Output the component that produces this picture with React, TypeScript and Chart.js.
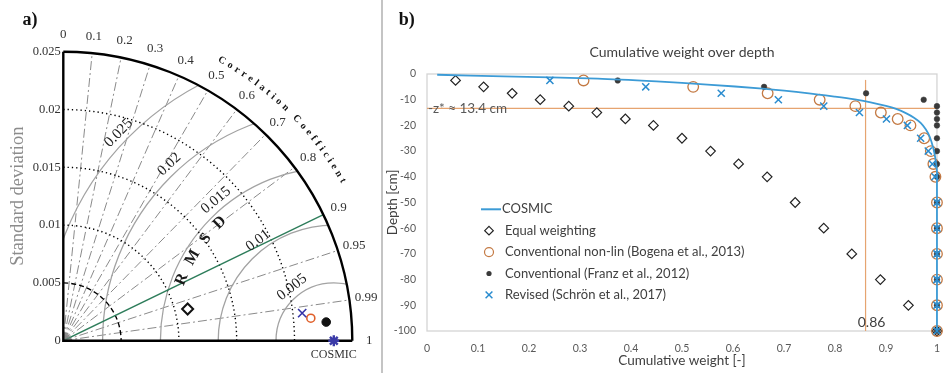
import React, { useEffect, useRef } from 'react';
import { Chart, registerables } from 'chart.js';

Chart.register(...registerables);

// ---------------- Panel a) Taylor diagram data ----------------
const taylorLabels = [
  'Equal weighting',
  'Revised (Schrön et al., 2017)',
  'Conventional non-lin (Bogena et al., 2013)',
  'Conventional (Franz et al., 2012)',
  'COSMIC',
];
const taylorStd = [0.0111, 0.0208, 0.0215, 0.0228, 0.0234];
const taylorCorr = [0.969, 0.9934, 0.9959, 0.9975, 1.0];
const refStd = 0.0234;
const stdMax = 0.025;
const stdArcs = [0.005, 0.01, 0.015, 0.02];
const rmsdArcs = [0.005, 0.01, 0.015, 0.02, 0.025];
const corrLines = [0.1, 0.2, 0.3, 0.4, 0.5, 0.6, 0.7, 0.8, 0.9, 0.95, 0.99];
const corrLabels = [0, 0.1, 0.2, 0.3, 0.4, 0.5, 0.6, 0.7, 0.8, 0.9, 0.95, 0.99, 1];
const highlightCorr = 0.9;

// ---------------- Panel b) cumulative weight data ----------------
const depthCm = [-2.5, -5, -7.5, -10, -12.5, -15, -17.5, -20, -25, -30, -35, -40, -50, -60, -70, -80, -90, -100];
const equalWeight = [0.056, 0.111, 0.167, 0.222, 0.278, 0.333, 0.389, 0.444, 0.5, 0.556, 0.611, 0.667, 0.722, 0.778, 0.833, 0.889, 0.944, 1.0];
const bogenaWeight = [0.307, 0.522, 0.668, 0.77, 0.84, 0.89, 0.923, 0.948, 0.975, 0.988, 0.993, 0.997, 1, 1, 1, 1, 1, 1];
const franzWeight = [0.374, 0.661, 0.861, 0.974, 1, 1, 1, 1, 1, 1, 1, 1, 1, 1, 1, 1, 1, 1];
const schroenWeight = [0.241, 0.429, 0.577, 0.689, 0.778, 0.848, 0.901, 0.942, 0.968, 0.983, 0.991, 0.996, 1, 1, 1, 1, 1, 1];
const cosmicWeight = [0.02, 0.15, 0.335, 0.45, 0.55, 0.658, 0.749, 0.80, 0.839, 0.87, 0.90, 0.92, 0.94, 0.955, 0.968, 0.978, 0.986, 0.993, 0.997, 1.0, 1.0];
const cosmicDepth = [-0.3, -0.9, -1.8, -2.9, -4.1, -5.7, -7.5, -8.8, -9.9, -11.0, -12.4, -13.6, -15.3, -17.0, -19.0, -21.5, -24.5, -29, -33, -38, -100];
const zStar = -13.4;
const weight86 = 0.86;
const vLineTop = -2.3;

const C_BLUE = '#3c9bd6';
const C_X = '#2a8ccf';
const C_ORANGE = '#c47a44';
const C_DOT = '#3a3a3a';
const C_REF = '#e6a470';

const polar = (s: number, c: number) => ({ x: s * c, y: s * Math.sqrt(Math.max(0, 1 - c * c)) });

const taylorStyles: any[] = [
  { pointStyle: 'rectRot', pointRadius: 5.5, pointBorderColor: '#111', pointBackgroundColor: '#fff', pointBorderWidth: 2 },
  { pointStyle: 'crossRot', pointRadius: 5.8, pointBorderColor: '#3434a8', pointBackgroundColor: '#3434a8', pointBorderWidth: 1.6 },
  { pointStyle: 'circle', pointRadius: 4, pointBorderColor: '#e0602a', pointBackgroundColor: 'rgba(0,0,0,0)', pointBorderWidth: 1.6 },
  { pointStyle: 'circle', pointRadius: 4.3, pointBorderColor: '#111', pointBackgroundColor: '#111', pointBorderWidth: 1 },
  { pointStyle: 'star', pointRadius: 5.5, pointBorderColor: '#3a3aa8', pointBackgroundColor: '#3a3aa8', pointBorderWidth: 2.4 },
];

function arcText(ctx: any, text: string, cx: number, cy: number, rad: number, a0: number, a1: number) {
  // places characters along a circle, clockwise from angle a0 to a1 (degrees, math convention)
  const chars = text.split('');
  const w = chars.map((ch) => ctx.measureText(ch).width);
  const L = ((a0 - a1) * Math.PI / 180) * rad;
  let base = 0;
  for (let i = 1; i < w.length; i++) base += (w[i - 1] + w[i]) / 2;
  const g = (L - base) / (w.length - 1);
  let s = 0;
  chars.forEach((ch, i) => {
    if (i > 0) s += (w[i - 1] + w[i]) / 2 + g;
    const phi = a0 * Math.PI / 180 - s / rad;
    ctx.save();
    ctx.translate(cx + rad * Math.cos(phi), cy - rad * Math.sin(phi));
    ctx.rotate(Math.PI / 2 - phi);
    ctx.fillText(ch, 0, 0);
    ctx.restore();
  });
}

const taylorPlugin = {
  id: 'taylorGrid',
  beforeDatasetsDraw(chart: any) {
    const { ctx } = chart;
    const xs = chart.scales.x;
    const ys = chart.scales.y;
    const ox = xs.getPixelForValue(0);
    const oy = ys.getPixelForValue(0);
    const k = (xs.getPixelForValue(stdMax) - ox) / stdMax;
    const R = stdMax * k;
    const P = (r: number, c: number) => {
      const t = Math.acos(c);
      return [ox + r * Math.cos(t), oy - r * Math.sin(t)];
    };
    const cx = ox + refStd * k;

    ctx.save();
    ctx.beginPath();
    ctx.moveTo(ox, oy);
    ctx.arc(ox, oy, R, -Math.PI / 2, 0);
    ctx.closePath();
    ctx.clip();

    // radial correlation lines (dash-dot)
    ctx.strokeStyle = '#8a8a8a';
    ctx.lineWidth = 1;
    ctx.setLineDash([9, 3, 2, 3]);
    corrLines.forEach((c) => {
      if (c === highlightCorr) return;
      const [ex, ey] = P(R, c);
      ctx.beginPath();
      ctx.moveTo(ox, oy);
      ctx.lineTo(ex, ey);
      ctx.stroke();
    });
    // RMSD arcs
    ctx.setLineDash([]);
    ctx.strokeStyle = '#a3a3a3';
    ctx.lineWidth = 1.3;
    rmsdArcs.forEach((r) => {
      ctx.beginPath();
      ctx.arc(cx, oy, r * k, Math.PI, 2 * Math.PI);
      ctx.stroke();
    });
    // standard deviation arcs
    ctx.strokeStyle = '#000';
    ctx.lineWidth = 1.4;
    stdArcs.forEach((s) => {
      ctx.setLineDash(s === 0.005 ? [5, 3] : [1.3, 3]);
      ctx.beginPath();
      ctx.arc(ox, oy, s * k, -Math.PI / 2, 0);
      ctx.stroke();
    });
    // highlighted correlation line
    ctx.setLineDash([]);
    ctx.strokeStyle = '#2e7d5b';
    ctx.lineWidth = 1.4;
    const [gx, gy] = P(R, highlightCorr);
    ctx.beginPath();
    ctx.moveTo(ox, oy);
    ctx.lineTo(gx, gy);
    ctx.stroke();
    // dense origin
    ctx.fillStyle = 'rgba(130,130,130,0.55)';
    ctx.beginPath();
    ctx.moveTo(ox, oy);
    ctx.arc(ox, oy, 8, -Math.PI / 2, 0);
    ctx.closePath();
    ctx.fill();
    ctx.restore();

    // axes and outer arc
    ctx.save();
    ctx.strokeStyle = '#000';
    ctx.lineWidth = 2.4;
    ctx.beginPath();
    ctx.moveTo(ox, oy - R);
    ctx.lineTo(ox, oy);
    ctx.lineTo(ox + R, oy);
    ctx.stroke();
    ctx.beginPath();
    ctx.arc(ox, oy, R, -Math.PI / 2, 0);
    ctx.stroke();

    // correlation labels
    ctx.fillStyle = '#333';
    ctx.font = '13px "Liberation Serif"';
    ctx.textAlign = 'center';
    ctx.textBaseline = 'middle';
    corrLabels.forEach((c) => {
      const [lx, ly] = P(R + 17, c);
      ctx.fillText(String(c), lx, ly);
    });
    // Correlation Coefficient arc title
    ctx.fillStyle = '#111';
    ctx.font = 'bold 10px "Liberation Serif"';
    arcText(ctx, 'Correlation Coefficient', ox, oy, R + 33, 60.5, 29.8);

    // RMSD labels
    ctx.fillStyle = '#222';
    ctx.font = '15px "Liberation Serif"';
    const lblAng = [128, 127, 130, 133, 136];
    rmsdArcs.forEach((r, i) => {
      const phi = lblAng[i] * Math.PI / 180;
      const rr = r * k + 10;
      ctx.save();
      ctx.translate(cx + rr * Math.cos(phi), oy - rr * Math.sin(phi));
      ctx.rotate(Math.PI / 2 - phi);
      ctx.fillText(String(r), 0, 0);
      ctx.restore();
    });
    // R M S D
    ctx.font = 'bold 16px "Liberation Serif"';
    ctx.fillStyle = '#1a1a1a';
    const letters = ['R', 'M', 'S', 'D'];
    const lAng = [158, 149.5, 141.5, 134];
    const lr = 164;
    letters.forEach((ch, i) => {
      const phi = lAng[i] * Math.PI / 180;
      ctx.save();
      ctx.translate(cx + lr * Math.cos(phi), oy - lr * Math.sin(phi));
      ctx.rotate(Math.PI / 2 - phi);
      ctx.fillText(ch, 0, 0);
      ctx.restore();
    });
    // COSMIC label
    ctx.fillStyle = '#333';
    ctx.font = '12px "Liberation Serif"';
    ctx.fillText('COSMIC', cx, oy + 14);
    // panel letter
    ctx.fillStyle = '#111';
    ctx.font = 'bold 18px "Liberation Serif"';
    ctx.fillText('a)', 30, 20);
    ctx.restore();
  },
};

function drawMarker(ctx: any, kind: string, x: number, y: number) {
  ctx.save();
  ctx.setLineDash([]);
  if (kind === 'line') {
    ctx.strokeStyle = C_BLUE;
    ctx.lineWidth = 2;
    ctx.beginPath();
    ctx.moveTo(x - 8, y);
    ctx.lineTo(x + 12, y);
    ctx.stroke();
  } else if (kind === 'diamond') {
    ctx.strokeStyle = '#222';
    ctx.fillStyle = '#fff';
    ctx.lineWidth = 1.2;
    const r = 4.3;
    ctx.beginPath();
    ctx.moveTo(x, y - r);
    ctx.lineTo(x + r, y);
    ctx.lineTo(x, y + r);
    ctx.lineTo(x - r, y);
    ctx.closePath();
    ctx.fill();
    ctx.stroke();
  } else if (kind === 'circle') {
    ctx.strokeStyle = C_ORANGE;
    ctx.lineWidth = 1.2;
    ctx.beginPath();
    ctx.arc(x, y, 4.5, 0, Math.PI * 2);
    ctx.stroke();
  } else if (kind === 'dot') {
    ctx.fillStyle = C_DOT;
    ctx.beginPath();
    ctx.arc(x, y, 2.6, 0, Math.PI * 2);
    ctx.fill();
  } else if (kind === 'x') {
    ctx.strokeStyle = C_X;
    ctx.lineWidth = 1.5;
    const r = 3.4;
    ctx.beginPath();
    ctx.moveTo(x - r, y - r);
    ctx.lineTo(x + r, y + r);
    ctx.moveTo(x + r, y - r);
    ctx.lineTo(x - r, y + r);
    ctx.stroke();
  }
  ctx.restore();
}

const legendItems = [
  { kind: 'line', text: 'COSMIC' },
  { kind: 'diamond', text: 'Equal weighting' },
  { kind: 'circle', text: 'Conventional non-lin (Bogena et al., 2013)' },
  { kind: 'dot', text: 'Conventional (Franz et al., 2012)' },
  { kind: 'x', text: 'Revised (Schrön et al., 2017)' },
];

const panelBPlugin = {
  id: 'panelB',
  beforeDatasetsDraw(chart: any) {
    const { ctx, chartArea } = chart;
    const { left, top, right, bottom } = chartArea;
    ctx.save();
    ctx.strokeStyle = '#d4d4d4';
    ctx.lineWidth = 1.3;
    ctx.strokeRect(left, top, right - left, bottom - top);
    ctx.restore();
  },
  afterDatasetsDraw(chart: any) {
    const { ctx } = chart;
    const xs = chart.scales.x;
    const ys = chart.scales.y;
    ctx.save();
    ctx.textBaseline = 'middle';
    ctx.textAlign = 'left';
    ctx.font = '13.5px Lato';
    ctx.fillStyle = '#595959';
    ctx.fillText('-z* \u2248 ' + String(-zStar) + ' cm', xs.getPixelForValue(0) + 1, ys.getPixelForValue(zStar));
    ctx.textAlign = 'center';
    ctx.font = '14px Lato';
    ctx.fillStyle = '#404040';
    ctx.fillText(String(weight86), xs.getPixelForValue(weight86) + 6, ys.getPixelForValue(-100) - 9);

    // legend
    ctx.textAlign = 'left';
    ctx.font = '13px Lato';
    ctx.fillStyle = '#404040';
    legendItems.forEach((it, i) => {
      const y = 209.3 + i * 21.4;
      drawMarker(ctx, it.kind, 105, y);
      ctx.fillText(it.text, it.kind === 'line' ? 118 : 121, y);
    });

    ctx.fillStyle = '#111';
    ctx.font = 'bold 18px "Liberation Serif"';
    ctx.textAlign = 'center';
    ctx.fillText('b)', 22.7, 20);
    ctx.restore();
  },
};

const pts = (ws: number[], ds: number[]) => ws.map((w, i) => ({ x: w, y: ds[i] }));

export default function App() {
  const refA = useRef<HTMLCanvasElement>(null);
  const refB = useRef<HTMLCanvasElement>(null);

  useEffect(() => {
    const a = new Chart(refA.current as HTMLCanvasElement, {
      type: 'scatter',
      data: {
        datasets: taylorLabels.map((lab, i) => ({
          label: lab,
          data: [polar(taylorStd[i], taylorCorr[i])],
          showLine: false,
          clip: false as any,
          ...taylorStyles[i],
        })),
      },
      options: {
        animation: false,
        responsive: false,
        layout: { padding: { top: 51.7, right: 25.7, bottom: 32.3, left: 0 } },
        plugins: { legend: { display: false }, tooltip: { enabled: false } },
        scales: {
          x: { type: 'linear', min: 0, max: stdMax, display: false },
          y: {
            type: 'linear',
            min: 0,
            max: stdMax,
            afterFit: (s: any) => { s.width = 63.3; },
            grid: { display: false, drawTicks: false },
            border: { display: false },
            ticks: {
              stepSize: 0.005,
              padding: 2.5,
              color: '#333',
              font: { family: 'Liberation Serif', size: 12.5 },
              callback: (v: any) => String(Number(Number(v).toFixed(3))),
            },
            title: {
              display: true,
              text: 'Standard deviation',
              color: '#8c8c8c',
              font: { family: 'Liberation Serif', size: 18.5 },
              padding: { top: 7, bottom: 0 },
            },
          },
        },
      } as any,
      plugins: [taylorPlugin],
    });

    const b = new Chart(refB.current as HTMLCanvasElement, {
      type: 'scatter',
      data: {
        datasets: [
          {
            label: 'Revised (Schrön et al., 2017)',
            data: pts(schroenWeight, depthCm),
            pointStyle: 'crossRot',
            pointRadius: 5,
            pointBorderColor: C_X,
            pointBackgroundColor: C_X,
            pointBorderWidth: 1.5,
            showLine: false,
            clip: false,
            order: 1,
          },
          {
            label: 'COSMIC',
            data: pts(cosmicWeight, cosmicDepth),
            showLine: true,
            pointRadius: 0,
            borderColor: C_BLUE,
            borderWidth: 1.8,
            tension: 0.25,
            clip: 4,
            order: 2,
          },
          {
            label: 'Conventional (Franz et al., 2012)',
            data: pts(franzWeight, depthCm),
            pointStyle: 'circle',
            pointRadius: 2.8,
            pointBorderColor: C_DOT,
            pointBackgroundColor: C_DOT,
            pointBorderWidth: 0.5,
            showLine: false,
            clip: false,
            order: 3,
          },
          {
            label: 'Conventional non-lin (Bogena et al., 2013)',
            data: pts(bogenaWeight, depthCm),
            pointStyle: 'circle',
            pointRadius: 5.3,
            pointBorderColor: C_ORANGE,
            pointBackgroundColor: 'rgba(0,0,0,0)',
            pointBorderWidth: 1.3,
            showLine: false,
            clip: false,
            order: 4,
          },
          {
            label: 'Equal weighting',
            data: pts(equalWeight, depthCm),
            pointStyle: 'rectRot',
            pointRadius: 4.8,
            pointBorderColor: '#222',
            pointBackgroundColor: '#fff',
            pointBorderWidth: 1.2,
            showLine: false,
            clip: false,
            order: 5,
          },
          {
            label: 'z*',
            data: [{ x: 0, y: zStar }, { x: 1, y: zStar }],
            showLine: true,
            pointRadius: 0,
            borderColor: C_REF,
            borderWidth: 1.2,
            order: 6,
          },
          {
            label: 'w86',
            data: [{ x: weight86, y: -100 }, { x: weight86, y: vLineTop }],
            showLine: true,
            pointRadius: 0,
            borderColor: C_REF,
            borderWidth: 1.2,
            order: 7,
          },
        ] as any,
      },
      options: {
        animation: false,
        responsive: false,
        layout: { padding: { top: 0, right: 8, bottom: 0, left: 0 } },
        plugins: {
          legend: { display: false },
          tooltip: { enabled: false },
          title: {
            display: true,
            text: 'Cumulative weight over depth',
            fullSize: false,
            color: '#404040',
            font: { family: 'Lato', size: 14, weight: 'normal' },
            padding: { top: 43.6, bottom: 13.6 },
          },
        },
        scales: {
          x: {
            type: 'linear',
            min: 0,
            max: 1,
            afterFit: (s: any) => { s.height = 42; },
            grid: { display: false, drawTicks: false },
            border: { display: false },
            ticks: {
              stepSize: 0.1,
              padding: 11,
              color: '#595959',
              maxRotation: 0,
              autoSkip: false,
              font: { family: 'Lato', size: 10.5 },
              callback: (v: any) => String(Math.round(Number(v) * 10) / 10),
            },
            title: {
              display: true,
              text: 'Cumulative weight [-]',
              color: '#404040',
              font: { family: 'Lato', size: 13.5 },
              padding: { top: 0, bottom: 4 },
            },
          },
          y: {
            type: 'linear',
            min: -100,
            max: 0,
            afterFit: (s: any) => { s.width = 43; },
            grid: { display: false, drawTicks: false },
            border: { display: false },
            ticks: {
              stepSize: 10,
              padding: 11,
              color: '#595959',
              font: { family: 'Lato', size: 10.5 },
            },
            title: {
              display: true,
              text: 'Depth [cm]',
              color: '#404040',
              font: { family: 'Lato', size: 13.5 },
              padding: { top: 1, bottom: 0 },
            },
          },
        },
      } as any,
      plugins: [panelBPlugin],
    });

    return () => {
      a.destroy();
      b.destroy();
    };
  }, []);

  return (
    <div style={{ position: 'absolute', left: 0, top: 0, width: 951, height: 373, background: '#fff', overflow: 'hidden' }}>
      <canvas ref={refA} width={378} height={373} style={{ position: 'absolute', left: 0, top: 0 }} />
      <div style={{ position: 'absolute', left: 381, top: 0, width: 1.5, height: 373, background: '#c4c4c4' }} />
      <canvas ref={refB} width={567} height={373} style={{ position: 'absolute', left: 384, top: 0 }} />
    </div>
  );
}
